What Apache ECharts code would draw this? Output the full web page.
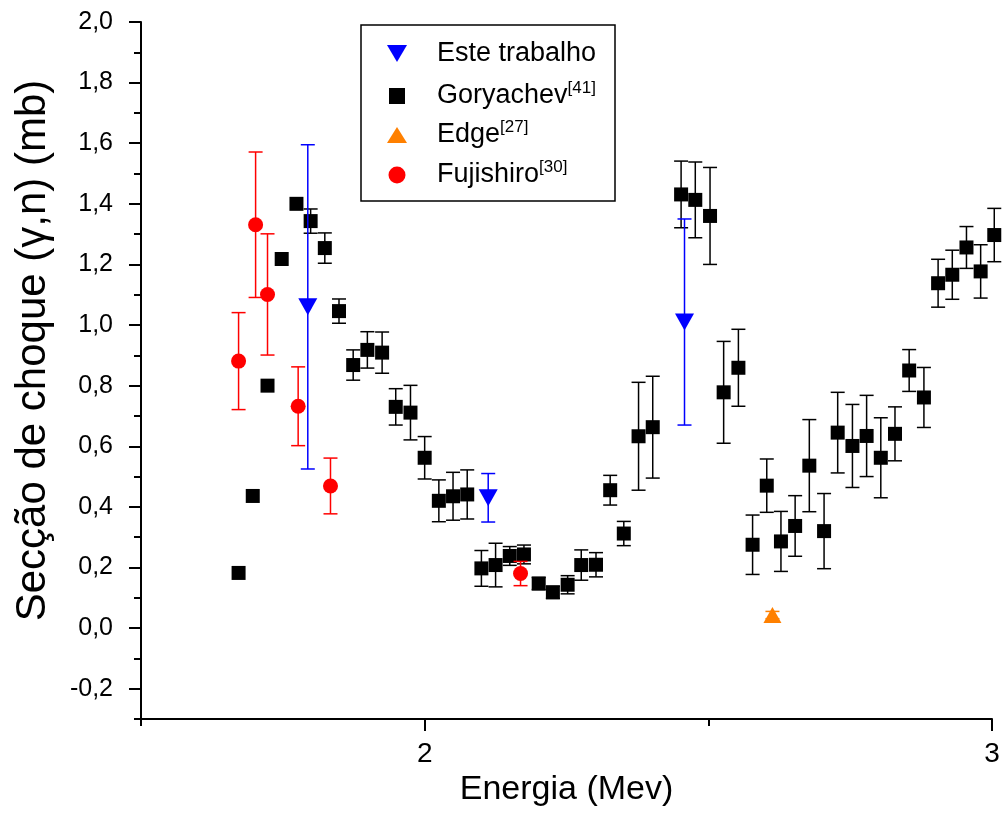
<!DOCTYPE html>
<html>
<head>
<meta charset="utf-8">
<title>Secção de choque (γ,n)</title>
<script src="https://cdn.jsdelivr.net/npm/echarts@6/dist/echarts.min.js"></script>
<style>
  html, body { margin: 0; padding: 0; background: #fff; }
  #chart { width: 1005px; height: 831px; }
</style>
</head>
<body>
<div id="chart"></div>
<script>
// Este trabalho (blue, downward triangles)
const esteE   = [1.794, 2.112, 2.458];
const esteV   = [1.06, 0.43, 1.01];
const esteErr = [0.535, 0.08, 0.34];

// Goryachev [41] (black squares)
const goryE = [1.672, 1.697, 1.723, 1.748, 1.774, 1.799, 1.824, 1.849, 1.874, 1.899,
               1.925, 1.949, 1.975, 2.000, 2.025, 2.050, 2.075, 2.100, 2.125, 2.150,
               2.175, 2.201, 2.226, 2.252, 2.276, 2.302, 2.327, 2.351, 2.377, 2.402,
               2.452, 2.477, 2.503, 2.527, 2.553, 2.578, 2.603, 2.628, 2.653, 2.678,
               2.704, 2.728, 2.754, 2.779, 2.804, 2.829, 2.854, 2.880, 2.905, 2.930,
               2.955, 2.980, 3.004];
const goryV = [0.182, 0.436, 0.80, 1.218, 1.40, 1.343, 1.254, 1.046, 0.868, 0.918,
               0.909, 0.730, 0.711, 0.562, 0.420, 0.435, 0.441, 0.197, 0.208, 0.238,
               0.243, 0.147, 0.118, 0.143, 0.208, 0.209, 0.455, 0.312, 0.633, 0.663,
               1.431, 1.413, 1.36, 0.778, 0.859, 0.275, 0.47, 0.286, 0.337, 0.536,
               0.32, 0.645, 0.601, 0.634, 0.562, 0.641, 0.850, 0.761, 1.138, 1.166,
               1.256, 1.177, 1.297];
const goryErr = [0, 0, 0, 0, 0, 0.04, 0.05, 0.04, 0.05, 0.06,
                 0.068, 0.06, 0.09, 0.07, 0.069, 0.079, 0.081, 0.059, 0.072, 0.031,
                 0.031, 0.02, 0.02, 0.03, 0.05, 0.04, 0.049, 0.04, 0.178, 0.168,
                 0.11, 0.125, 0.16, 0.168, 0.127, 0.098, 0.088, 0.099, 0.10, 0.152,
                 0.124, 0.133, 0.137, 0.134, 0.132, 0.089, 0.069, 0.099, 0.079, 0.081,
                 0.069, 0.088, 0.088];

// Edge [27] (orange triangle)
const edgeE   = [2.613];
const edgeV   = [0.043];
const edgeErr = [0.012];

// Fujishiro [30] (red circles)
const fujiE   = [1.672, 1.702, 1.723, 1.777, 1.834, 2.169];
const fujiV   = [0.881, 1.331, 1.101, 0.732, 0.469, 0.18];
const fujiErr = [0.16, 0.24, 0.20, 0.13, 0.092, 0.04];

// Axis ticks
const xMajorTicks = [2, 3];
const xMinorTicks = [1.5, 2.5];
const yMajorTicks = [-0.2, 0, 0.2, 0.4, 0.6, 0.8, 1.0, 1.2, 1.4, 1.6, 1.8, 2.0];
const yMinorTicks = [-0.3, -0.1, 0.1, 0.3, 0.5, 0.7, 0.9, 1.1, 1.3, 1.5, 1.7, 1.9];

const FONT = '"Liberation Sans", Arial, Helvetica, sans-serif';
const BLUE = '#0000ff', BLACK = '#000000', ORANGE = '#ff8000', RED = '#ff0000';

const pairs = (xs, ys) => xs.map((x, i) => [x, ys[i]]);

function errorBars(name, xs, ys, es, color, z) {
  return {
    type: 'custom',
    name: name,
    z: z,
    clip: false,
    silent: true,
    data: xs.map((x, i) => [x, ys[i], es[i]]),
    encode: { x: 0, y: 1 },
    renderItem: function (params, api) {
      const x = api.value(0), y = api.value(1), e = api.value(2);
      if (!e) return null;
      const top = api.coord([x, y + e]);
      const bot = api.coord([x, y - e]);
      const hw = 7;
      const st = { stroke: color, lineWidth: 1.5 };
      return {
        type: 'group',
        children: [
          { type: 'line', shape: { x1: top[0], y1: top[1], x2: bot[0], y2: bot[1] }, style: st },
          { type: 'line', shape: { x1: top[0] - hw, y1: top[1], x2: top[0] + hw, y2: top[1] }, style: st },
          { type: 'line', shape: { x1: bot[0] - hw, y1: bot[1], x2: bot[0] + hw, y2: bot[1] }, style: st }
        ]
      };
    }
  };
}

// One legend block per entry so each marker keeps its own size
const legendRows = [
  { name: 'Este trabalho', label: '{n|Este trabalho}', icon: 'path://M0,0L20,0L10,17Z', w: 20, h: 17, cy: 56 },
  { name: 'Goryachev', label: '{n|Goryachev}{s|[41]}', icon: 'rect', w: 16, h: 16, cy: 96 },
  { name: 'Edge', label: '{n|Edge}{s|[27]}', icon: 'triangle', w: 20, h: 16, cy: 135 },
  { name: 'Fujishiro', label: '{n|Fujishiro}{s|[30]}', icon: 'circle', w: 17, h: 17, cy: 175 }
];
const iconCx = 397, textX = 437, rowH = 32;
const legends = legendRows.map(r => {
  const left = iconCx - r.w / 2;
  return {
    left: left,
    top: r.cy - rowH / 2,
    orient: 'vertical',
    padding: 0,
    itemWidth: r.w,
    itemHeight: r.h,
    selectedMode: false,
    data: [{ name: r.name, icon: r.icon }],
    formatter: () => r.label,
    textStyle: {
      padding: [0, 0, 0, textX - (left + r.w + 5)],
      rich: {
        n: { fontFamily: FONT, fontSize: 27, color: '#000', lineHeight: rowH },
        s: { fontFamily: FONT, fontSize: 17, color: '#000', lineHeight: 15, verticalAlign: 'top' }
      }
    }
  };
});

const chart = echarts.init(document.getElementById('chart'), null, { renderer: 'canvas' });

const axisLine = { show: true, onZero: false, lineStyle: { color: '#000', width: 2 } };

chart.setOption({
  animation: false,
  backgroundColor: '#ffffff',
  grid: { left: 141, right: 13, top: 22, bottom: 112, containLabel: false },
  legend: legends,
  graphic: [{
    type: 'rect',
    shape: { x: 361, y: 25, width: 254, height: 176 },
    style: { fill: 'none', stroke: '#000', lineWidth: 1.5 },
    z: 1
  }],
  xAxis: [{
    type: 'value',
    position: 'bottom',
    min: 1.5, max: 3.0,
    axisLine: axisLine,
    axisTick: { show: true, customValues: xMajorTicks, length: 12, lineStyle: { color: '#000', width: 2 } },
    axisLabel: {
      customValues: xMajorTicks, margin: 21,
      fontFamily: FONT, fontSize: 28, color: '#000',
      formatter: v => String(v)
    },
    splitLine: { show: false },
    name: 'Energia (Mev)',
    nameLocation: 'middle',
    nameGap: 46,
    nameTextStyle: { fontFamily: FONT, fontSize: 34, color: '#000' }
  }, {
    type: 'value',
    position: 'bottom',
    min: 1.5, max: 3.0,
    axisLine: { show: false, onZero: false },
    axisTick: { show: true, customValues: xMinorTicks, length: 7, lineStyle: { color: '#000', width: 2 } },
    axisLabel: { show: false },
    splitLine: { show: false }
  }],
  yAxis: [{
    type: 'value',
    position: 'left',
    min: -0.3, max: 2.0,
    axisLine: axisLine,
    axisTick: { show: true, customValues: yMajorTicks, length: 12, lineStyle: { color: '#000', width: 2 } },
    axisLabel: {
      customValues: yMajorTicks, margin: 28,
      fontFamily: FONT, fontSize: 25, color: '#000',
      formatter: v => v.toFixed(1).replace('.', ',')
    },
    splitLine: { show: false },
    name: 'Secção de choque (γ,n) (mb)',
    nameLocation: 'middle',
    nameGap: 87,
    nameTextStyle: { fontFamily: FONT, fontSize: 42, color: '#000', padding: [0, 0, 0, 40] }
  }, {
    type: 'value',
    position: 'left',
    min: -0.3, max: 2.0,
    axisLine: { show: false, onZero: false },
    axisTick: { show: true, customValues: yMinorTicks, length: 7, lineStyle: { color: '#000', width: 2 } },
    axisLabel: { show: false },
    splitLine: { show: false }
  }],
  series: [
    {
      name: 'Este trabalho', type: 'scatter', z: 9, clip: false,
      data: pairs(esteE, esteV),
      symbol: 'triangle', symbolRotate: 180, symbolSize: [19, 17],
      itemStyle: { color: BLUE, opacity: 1 }
    },
    {
      name: 'Goryachev', type: 'scatter', z: 4, clip: false,
      data: pairs(goryE, goryV),
      symbol: 'rect', symbolSize: 14,
      itemStyle: { color: BLACK, opacity: 1 }
    },
    {
      name: 'Edge', type: 'scatter', z: 6, clip: false,
      data: pairs(edgeE, edgeV),
      symbol: 'triangle', symbolSize: [18, 16],
      itemStyle: { color: ORANGE, opacity: 1 }
    },
    {
      name: 'Fujishiro', type: 'scatter', z: 7, clip: false,
      data: pairs(fujiE, fujiV),
      symbol: 'circle', symbolSize: 15,
      itemStyle: { color: RED, opacity: 1 }
    },
    errorBars('Goryachev erro', goryE, goryV, goryErr, BLACK, 3),
    errorBars('Edge erro', edgeE, edgeV, edgeErr, ORANGE, 5),
    errorBars('Fujishiro erro', fujiE, fujiV, fujiErr, RED, 5),
    errorBars('Este trabalho erro', esteE, esteV, esteErr, BLUE, 8)
  ]
});
</script>
</body>
</html>
